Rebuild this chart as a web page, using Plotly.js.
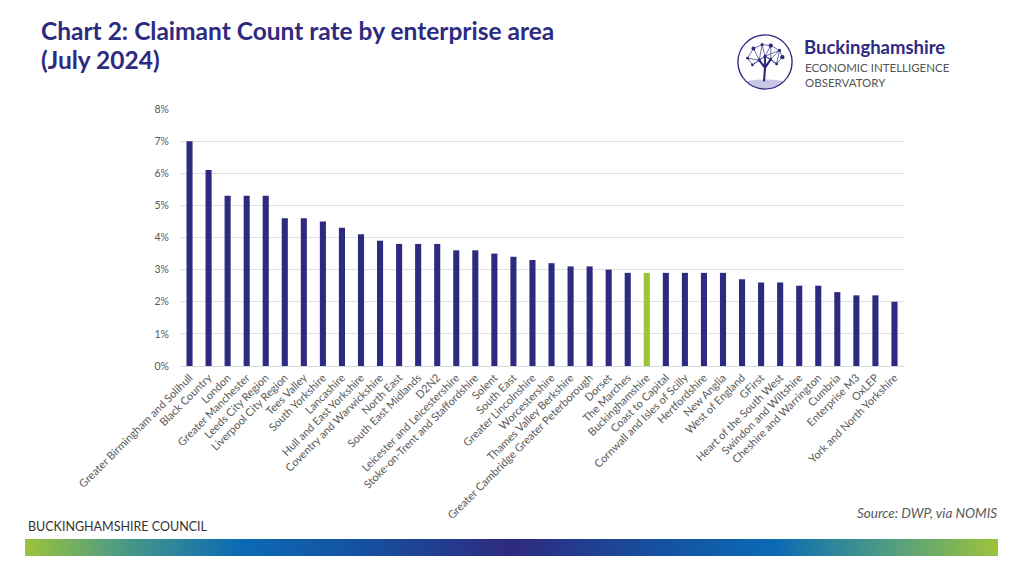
<!DOCTYPE html>
<html>
<head>
<meta charset="utf-8">
<script src="https://cdn.plot.ly/plotly-3.0.1.min.js"></script>
<style>
  html, body { margin: 0; padding: 0; background: #ffffff; }
  #chart { width: 1024px; height: 576px; }
</style>
</head>
<body>
<div id="chart"></div>
<script>
const categories = [
  "Greater Birmingham and Solihull", "Black Country", "London", "Greater Manchester",
  "Leeds City Region", "Liverpool City Region", "Tees Valley", "South Yorkshire",
  "Lancashire", "Hull and East Yorkshire", "Coventry and Warwickshire", "North East",
  "South East Midlands", "D2N2", "Leicester and Leicestershire",
  "Stoke-on-Trent and Staffordshire", "Solent", "South East", "Greater Lincolnshire",
  "Worcestershire", "Thames Valley Berkshire", "Greater Cambridge Greater Peterborough",
  "Dorset", "The Marches", "Buckinghamshire", "Coast to Capital",
  "Cornwall and Isles of Scilly", "Hertfordshire", "New Anglia", "West of England",
  "GFirst", "Heart of the South West", "Swindon and Wiltshire", "Cheshire and Warrington",
  "Cumbria", "Enterprise M3", "OxLEP", "York and North Yorkshire"
];
const claimantRate = [
  7.0, 6.1, 5.3, 5.3, 5.3, 4.6, 4.6, 4.5, 4.3, 4.1, 3.9, 3.8, 3.8, 3.8, 3.6, 3.6,
  3.5, 3.4, 3.3, 3.2, 3.1, 3.1, 3.0, 2.9, 2.9, 2.9, 2.9, 2.9, 2.9, 2.7, 2.6, 2.6,
  2.5, 2.5, 2.3, 2.2, 2.2, 2.0
];
const highlightArea = "Buckinghamshire";
const yTickValues = [0, 1, 2, 3, 4, 5, 6, 7, 8];
const yTickLabels = ["0%", "1%", "2%", "3%", "4%", "5%", "6%", "7%", "8%"];

const NAVY = "#2e2a7f";
const GREEN = "#9dc33b";
const barColors = categories.map(c => c === highlightArea ? GREEN : NAVY);

// pixel -> paper helpers (plot area 180..904 x, 109..366 y)
const L = 180, R = 120, T = 109, B = 210, W = 1024, H = 576;
const PW = W - L - R, PH = H - T - B;
const px = x => (x - L) / PW;
const py = y => (H - B - y) / PH;

const gradientSvg = '<svg xmlns="http://www.w3.org/2000/svg" width="1000" height="20" viewBox="0 0 1000 20" preserveAspectRatio="none">' +
  '<defs><linearGradient id="g" x1="0" y1="0" x2="1" y2="0">' +
  '<stop offset="0" stop-color="#9dc33b"/>' +
  '<stop offset="0.1" stop-color="#4a9a86"/>' +
  '<stop offset="0.22" stop-color="#0b6ab4"/>' +
  '<stop offset="0.35" stop-color="#1650a0"/>' +
  '<stop offset="0.5" stop-color="#2e2a7f"/>' +
  '<stop offset="0.65" stop-color="#1650a0"/>' +
  '<stop offset="0.77" stop-color="#0b6ab4"/>' +
  '<stop offset="0.88" stop-color="#4a9a86"/>' +
  '<stop offset="1" stop-color="#9dc33b"/>' +
  '</linearGradient></defs><rect x="0" y="0" width="1000" height="20" fill="url(#g)"/></svg>';

const logoSvg = '<svg xmlns="http://www.w3.org/2000/svg" width="60" height="60" viewBox="0 0 60 60">' +
  '<defs><clipPath id="c"><circle cx="30" cy="30" r="28"/></clipPath></defs>' +
  '<circle cx="30" cy="30" r="28" fill="#ffffff"/>' +
  '<g clip-path="url(#c)"><ellipse cx="30" cy="62" rx="40" ry="14" fill="#c9c6e6"/></g>' +
  '<path d="M29 50 L30 36 L24 28 M30 36 L36 27 M30 38 L30 24" stroke="#2e2a7f" stroke-width="2.2" fill="none"/>' +
  '<g stroke="#2e2a7f" stroke-width="0.7" fill="none">' +
  '<path d="M12 26 L18 16 L27 12 L36 13 L45 18 L48 25 L42 32 L36 27 L30 24 L24 28 L17 33 L12 26 Z"/>' +
  '<path d="M18 16 L24 28 L27 12 L30 24 L36 13 L36 27 L45 18 L42 32 M12 26 L24 28 M30 24 L45 18 M17 33 L30 24 L42 32"/>' +
  '</g>' +
  '<g fill="#2e2a7f">' +
  '<circle cx="18" cy="16" r="2"/><circle cx="27" cy="12" r="1.6"/><circle cx="36" cy="13" r="2.2"/>' +
  '<circle cx="45" cy="18" r="1.6"/><circle cx="48" cy="25" r="2.2"/><circle cx="12" cy="26" r="1.5"/>' +
  '<circle cx="24" cy="28" r="1.6"/><circle cx="30" cy="24" r="1.4"/><circle cx="36" cy="27" r="1.5"/>' +
  '<circle cx="42" cy="32" r="1.5"/><circle cx="17" cy="33" r="1.4"/>' +
  '</g>' +
  '<circle cx="30" cy="30" r="28" fill="none" stroke="#2e2a7f" stroke-width="1.4"/>' +
  '</svg>';

const svgUri = s => "data:image/svg+xml;charset=utf-8," + encodeURIComponent(s);

const FONT = "Lato, 'Open Sans', sans-serif";

const trace = {
  type: "bar",
  x: categories,
  y: claimantRate,
  marker: { color: barColors },
  hoverinfo: "x+y"
};

const layout = {
  width: W, height: H,
  margin: { l: L, r: R, t: T, b: B, pad: 0 },
  paper_bgcolor: "#ffffff",
  plot_bgcolor: "#ffffff",
  font: { family: FONT, color: "#595959", size: 10 },
  showlegend: false,
  bargap: 0.68,
  xaxis: {
    type: "category",
    tickangle: -45,
    tickfont: { size: 11, color: "#595959" },
    showline: true, linecolor: "#d9d9d9", linewidth: 1,
    ticks: "", showgrid: false,
    automargin: false
  },
  yaxis: {
    range: [0, 8],
    tickvals: yTickValues,
    ticktext: yTickLabels,
    tickfont: { size: 10.5, color: "#595959" },
    gridcolor: "#e0e0e0", gridwidth: 1,
    zeroline: false, showline: false,
    ticks: "", ticklabelstandoff: 10,
    automargin: false
  },
  images: [
    {
      source: svgUri(gradientSvg), xref: "paper", yref: "paper",
      x: px(25), y: py(539), sizex: (998 - 25) / PW, sizey: 17 / PH,
      xanchor: "left", yanchor: "top", sizing: "stretch", layer: "above"
    },
    {
      source: svgUri(logoSvg), xref: "paper", yref: "paper",
      x: px(736), y: py(33), sizex: 58 / PW, sizey: 58 / PH,
      xanchor: "left", yanchor: "top", sizing: "stretch", layer: "above"
    }
  ],
  annotations: [
    {
      text: "<b>Chart 2: Claimant Count rate by enterprise area</b>", xref: "paper", yref: "paper",
      x: px(39), y: py(31), xanchor: "left", yanchor: "middle", showarrow: false,
      font: { family: FONT, size: 24.5, color: NAVY }
    },
    {
      text: "<b>(July 2024)</b>", xref: "paper", yref: "paper",
      x: px(39), y: py(59), xanchor: "left", yanchor: "middle", showarrow: false,
      font: { family: FONT, size: 24.5, color: NAVY }
    },
    {
      text: "<b>Buckinghamshire</b>", xref: "paper", yref: "paper",
      x: px(802), y: py(47), xanchor: "left", yanchor: "middle", showarrow: false,
      font: { family: FONT, size: 18.5, color: NAVY }
    },
    {
      text: "ECONOMIC INTELLIGENCE", xref: "paper", yref: "paper",
      x: px(803), y: py(68), xanchor: "left", yanchor: "middle", showarrow: false,
      font: { family: FONT, size: 11.5, color: "#555555" }
    },
    {
      text: "OBSERVATORY", xref: "paper", yref: "paper",
      x: px(803), y: py(83), xanchor: "left", yanchor: "middle", showarrow: false,
      font: { family: FONT, size: 11.5, color: "#555555" }
    },
    {
      text: "<i>Source: DWP, via NOMIS</i>", xref: "paper", yref: "paper",
      x: px(999), y: py(513), xanchor: "right", yanchor: "middle", showarrow: false,
      font: { family: FONT, size: 13.5, color: "#595959" }
    },
    {
      text: "BUCKINGHAMSHIRE COUNCIL", xref: "paper", yref: "paper",
      x: px(26), y: py(526), xanchor: "left", yanchor: "middle", showarrow: false,
      font: { family: FONT, size: 12.5, color: "#333333" }
    }
  ]
};

Plotly.newPlot("chart", [trace], layout, { displayModeBar: false, staticPlot: true });
</script>
</body>
</html>
